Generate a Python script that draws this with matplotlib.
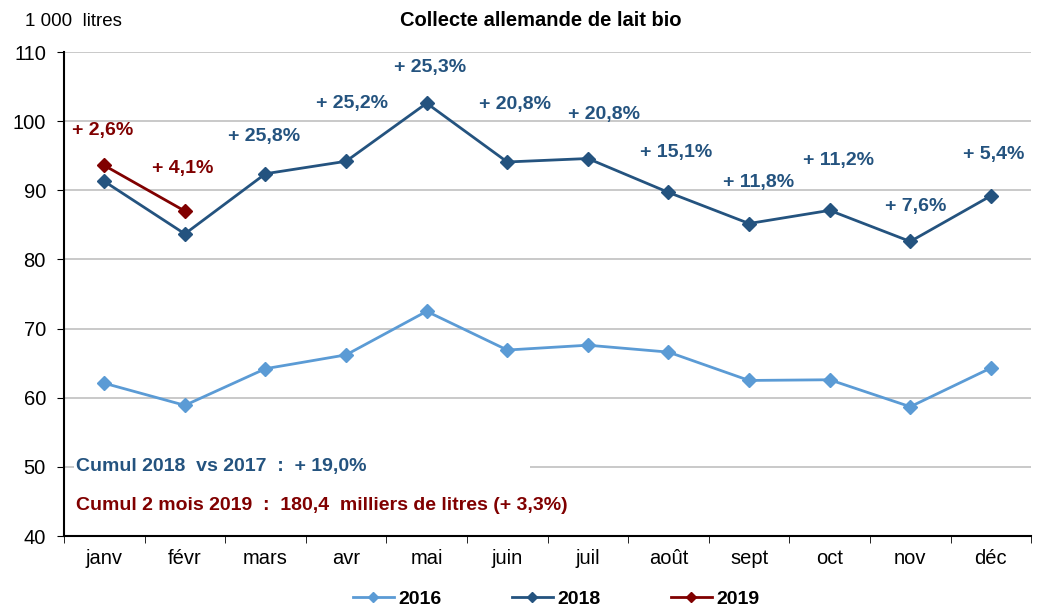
import matplotlib
matplotlib.use('Agg')
import matplotlib.pyplot as plt
from matplotlib.patches import Rectangle

plt.rcParams['font.family'] = ['Liberation Sans', 'DejaVu Sans']

months = ['janv', 'févr', 'mars', 'avr', 'mai', 'juin', 'juil', 'août', 'sept', 'oct', 'nov', 'déc']
v2016 = [62.1, 58.9, 64.2, 66.2, 72.5, 66.9, 67.6, 66.6, 62.5, 62.6, 58.7, 64.3]
v2018 = [91.3, 83.7, 92.4, 94.2, 102.6, 94.1, 94.6, 89.7, 85.2, 87.1, 82.6, 89.2]
v2019 = [93.6, 87.0]
pct_2018 = ['+ 25,8%', '+ 25,2%', '+ 25,3%', '+ 20,8%', '+ 20,8%',
            '+ 15,1%', '+ 11,8%', '+ 11,2%', '+ 7,6%', '+ 5,4%']
pct_2019 = ['+ 2,6%', '+ 4,1%']
cumul_2018 = 'Cumul 2018  vs 2017  :  + 19,0%'
cumul_2019 = 'Cumul 2 mois 2019  :  180,4  milliers de litres (+ 3,3%)'

# label positions (x in month index, y in data units)
pos_2018 = [(1.98, 97.8), (3.07, 102.6), (4.04, 107.7), (5.09, 102.4), (6.2, 101.0),
            (7.1, 95.4), (8.12, 91.1), (9.11, 94.3), (10.07, 87.6), (11.03, 95.2)]
pos_2019 = [(-0.02, 98.7), (0.97, 93.2)]

c16 = '#5b9bd5'
c18 = '#24537f'
c19 = '#800000'

fig = plt.figure(figsize=(10.4, 6.08), dpi=100)
ax = fig.add_axes([0.0615, 0.1184, 0.93, 0.796])

x = list(range(len(months)))
ax.plot(x, v2016, color=c16, lw=2, marker='D', ms=7, label='2016', zorder=3)
ax.plot(x, v2018, color=c18, lw=2, marker='D', ms=7, label='2018', zorder=3)
ax.plot(x[:len(v2019)], v2019, color=c19, lw=2, marker='D', ms=7, label='2019', zorder=4)

for t, (px, py) in zip(pct_2018, pos_2018):
    ax.text(px, py, t, color=c18, fontsize=14, fontweight='bold', ha='center', va='center')
for t, (px, py) in zip(pct_2019, pos_2019):
    ax.text(px, py, t, color=c19, fontsize=14, fontweight='bold', ha='center', va='center')

# white box behind the cumul text (hides the 50 gridline)
ax.add_patch(Rectangle((-0.37, 48.3), 5.65, 3.4, facecolor='white', edgecolor='none', zorder=1.5))
ax.text(-0.35, 50, cumul_2018, color=c18, fontsize=14, fontweight='bold', va='center', zorder=2)
ax.text(-0.35, 44.4, cumul_2019, color=c19, fontsize=14, fontweight='bold', va='center', zorder=2)

ax.set_xlim(-0.5, 11.5)
ax.set_ylim(40, 110)
ax.set_yticks(range(40, 111, 10))
ax.set_xticks(x)
ax.set_xticklabels(months)
ax.set_xticks([i - 0.5 for i in range(13)], minor=True)
ax.tick_params(axis='x', which='major', length=0, pad=9, labelsize=14.5)
ax.tick_params(axis='x', which='minor', length=5, direction='out', color='black')
ax.tick_params(axis='y', length=5, labelsize=14.5, pad=8)
ax.grid(axis='y', color='#c0c0c0', lw=1.2)
ax.set_axisbelow(True)
for s in ['top', 'right']:
    ax.spines[s].set_visible(False)
for s in ['left', 'bottom']:
    ax.spines[s].set_color('black')
    ax.spines[s].set_linewidth(1.5)

fig.text(0.024, 0.965, '1 000  litres', fontsize=13.5, ha='left', va='center')
fig.text(0.52, 0.967, 'Collecte allemande de lait bio', fontsize=14.5, fontweight='bold',
         ha='center', va='center')

leg = fig.legend(loc='center', bbox_to_anchor=(0.535, 0.014), ncol=3, frameon=False,
                 prop={'weight': 'bold', 'size': 14}, columnspacing=3.6, handlelength=2.1,
                 handletextpad=0.25, markerscale=0.8)

fig.savefig('out.png', dpi=100)
